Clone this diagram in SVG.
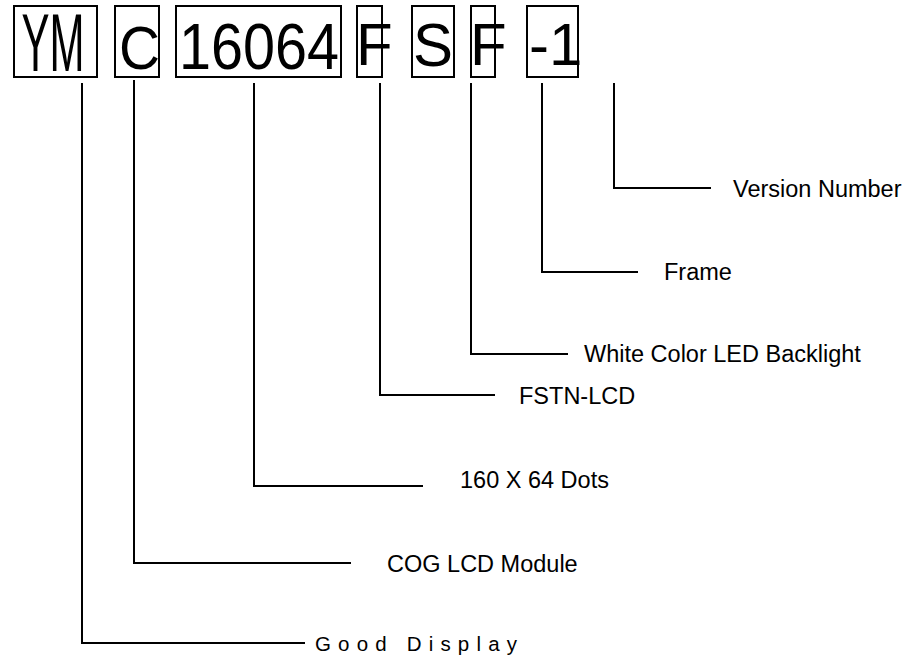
<svg xmlns="http://www.w3.org/2000/svg" width="914" height="665" viewBox="0 0 914 665">
<style>
.box{fill:none;stroke:#000;stroke-width:2}
.big{font-family:"Liberation Sans",Arial,sans-serif;font-size:60px;fill:#000}
.lbl{font-family:"Liberation Sans",Arial,sans-serif;font-size:23.5px;fill:#000}
.con{fill:none;stroke:#000;stroke-width:2}
</style>
<rect width="914" height="665" fill="#fff"/>
<g id="node-ym"><rect class="box" x="14" y="6" width="83" height="71"/><text class="big" x="21.5" y="70.5" style="font-size:81px" textLength="63" lengthAdjust="spacingAndGlyphs">YM</text></g>
<g id="node-c"><rect class="box" x="115" y="6" width="44" height="71"/><text class="big" x="119" y="69" style="font-size:62px" textLength="41" lengthAdjust="spacingAndGlyphs">C</text></g>
<g id="node-16064"><rect class="box" x="176" y="6" width="165" height="71"/><text class="big" x="179" y="69" style="font-size:64px" textLength="160" lengthAdjust="spacingAndGlyphs">16064</text></g>
<g id="node-f1"><rect class="box" x="357" y="6" width="25" height="71"/><text class="big" x="356" y="65">F</text></g>
<g id="node-s"><rect class="box" x="412" y="6" width="42" height="71"/><text class="big" x="413" y="66" style="font-size:62px" textLength="40" lengthAdjust="spacingAndGlyphs">S</text></g>
<g id="node-f2"><rect class="box" x="471" y="6" width="24" height="71"/><text class="big" x="470" y="65">F</text></g>
<g id="node-v"><rect class="box" x="527" y="6" width="51" height="71"/><text class="big" x="529" y="65">-1</text></g>
<g id="label-version"><text class="lbl" x="733" y="197">Version Number</text></g>
<g id="label-frame"><text class="lbl" x="664" y="280">Frame</text></g>
<g id="label-backlight"><text class="lbl" x="584" y="362">White Color LED Backlight</text></g>
<g id="label-fstn"><text class="lbl" x="519" y="404">FSTN-LCD</text></g>
<g id="label-dots"><text class="lbl" x="460" y="488">160 X 64 Dots</text></g>
<g id="label-cog"><text class="lbl" x="387" y="572">COG LCD Module</text></g>
<g id="label-good"><text class="lbl" x="315" y="651" style="font-size:20.5px" textLength="202" lengthAdjust="spacing">Good Display</text></g>
<g id="connectors">
<polyline class="con" points="82,83 82,643 305,643"/>
<polyline class="con" points="134,80 134,563 351,563"/>
<polyline class="con" points="254,83 254,486 423,486"/>
<polyline class="con" points="380,83 380,395 495,395"/>
<polyline class="con" points="471,83 471,354 568,354"/>
<polyline class="con" points="542,83 542,272 638,272"/>
<polyline class="con" points="614,83 614,188 711,188"/>
</g>
</svg>
